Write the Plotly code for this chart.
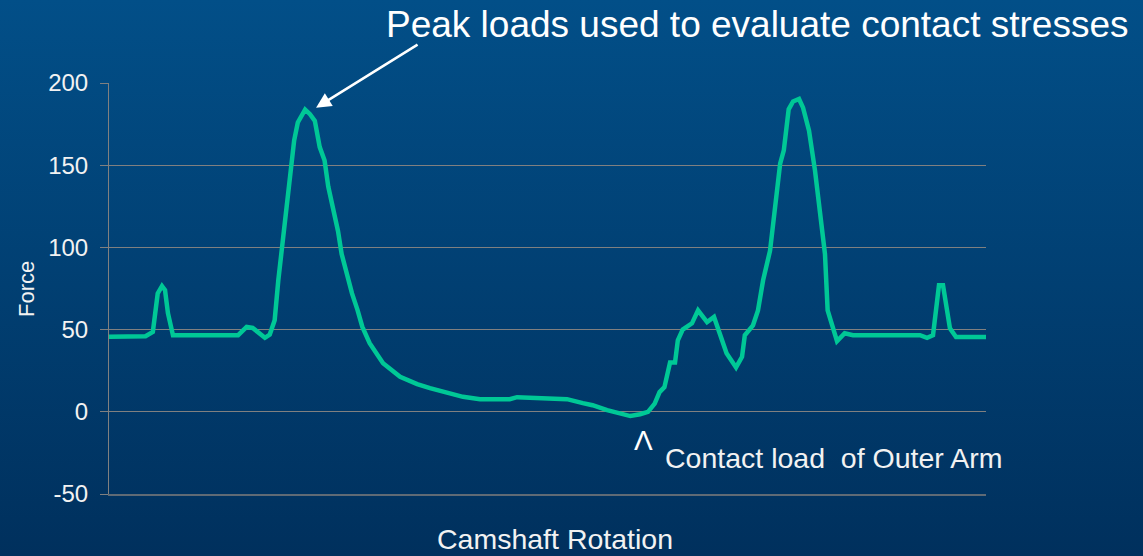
import base64
import plotly.graph_objects as go

# Camshaft rotation (deg) and force values
rotation = [0, 24, 30, 36, 40, 43.5, 46, 48.4, 52.5, 106, 113, 118, 124, 128, 132, 136, 139,
            142, 146, 150, 152, 155, 161, 165, 169, 173, 177, 180, 184, 188, 191, 195, 199.5,
            204, 208, 214, 225, 239, 253, 263.5, 277.5, 290.6, 304.6, 329, 335, 362, 376, 389,
            397, 409, 419.5, 428, 436, 442.5, 448, 452, 456, 460.6, 464.7, 467, 471, 478.6,
            483.6, 491, 496.7, 501.6, 507, 514.8, 519.7, 522, 528.7, 532.8, 537, 542.7, 546.8,
            551, 554, 558, 561.6, 566.5, 569.8, 574.7, 579.6, 583.7, 587.8, 590, 594, 597.7,
            604, 610.8, 665.8, 671.6, 676.5, 679, 681.4, 684.7, 688, 690.4, 695.4, 720]
force = [45.7, 46, 46, 48.6, 72, 76.5, 74, 60, 46.6, 46.6, 51.6, 51, 47, 45, 47, 55.7, 80,
         100, 120.6, 148.8, 165, 176, 183.8, 181, 177, 161, 152.8, 137, 124.5, 110, 96, 84, 72,
         62, 51.6, 41.7, 29.5, 21.3, 16.8, 14.4, 11.3, 9.1, 7.7, 7.7, 8.9, 8.3, 7.7, 5.3,
         4, 1, -0.9, -2.6, -1.5, 0, 5, 12, 15, 30, 30, 43.5, 50, 53.8,
         61.7, 54.6, 57.7, 47.8, 35.6, 27, 33.4, 46.6, 52.6, 61.7, 80, 98, 124.5,
         151, 159, 184, 188.8, 190.3, 185, 171, 146.8, 120.6, 96, 61.7, 51.6, 43,
         47.8, 46.6, 46.6, 45, 46.6, 61.7, 77, 77, 63.8, 50.8, 45.5, 45.5]
y_ticks = [-50, 0, 50, 100, 150, 200]
y_tick_labels = ["-50", "0", "50", "100", "150", "200"]

W, H = 1143, 556
L, R, T, B = 109, 157, 83, 62
PW, PH = W - L - R, H - T - B

def px(x):
    return (x - L) / PW

def py(y):
    return (H - B - y) / PH

svg = ('<svg xmlns="http://www.w3.org/2000/svg" width="100" height="100" preserveAspectRatio="none">'
       '<defs><linearGradient id="g" x1="0" y1="0" x2="0" y2="1">'
       '<stop offset="0" stop-color="#024f88"/><stop offset="1" stop-color="#00305d"/>'
       '</linearGradient></defs><rect width="100" height="100" fill="url(#g)"/></svg>')
src = "data:image/svg+xml;base64," + base64.b64encode(svg.encode()).decode()

fig = go.Figure()
fig.add_trace(go.Scatter(x=rotation, y=force, mode="lines",
                         line=dict(color="#00c896", width=4.5), hoverinfo="skip"))

font = "Liberation Sans, Arial, sans-serif"
fig.update_layout(
    width=W, height=H,
    margin=dict(l=L, r=R, t=T, b=B),
    paper_bgcolor="rgba(0,0,0,0)",
    plot_bgcolor="rgba(0,0,0,0)",
    showlegend=False,
    font=dict(family=font, color="white"),
    images=[dict(source=src, xref="paper", yref="paper", x=px(0), y=py(0),
                 sizex=W / PW, sizey=H / PH, xanchor="left", yanchor="top",
                 sizing="stretch", layer="below")],
    xaxis=dict(range=[0, 720], showticklabels=False, showgrid=False, zeroline=False,
               showline=True, linecolor="#5f6a75", linewidth=2, ticks=""),
    yaxis=dict(range=[-50, 200], tickvals=y_ticks, ticktext=y_tick_labels,
               showgrid=True, gridcolor="#808080",
               gridwidth=1, zeroline=False, showline=True, linecolor="#808080", linewidth=1,
               ticks="outside", ticklen=8, tickcolor="#808080", ticklabelstandoff=7,
               tickfont=dict(size=24, color="#f2f2f2", family=font)),
    annotations=[
        dict(text="Peak loads used to evaluate contact stresses", xref="paper", yref="paper",
             x=px(757), y=py(25), showarrow=False, xanchor="center", yanchor="middle",
             font=dict(size=37, color="white", family=font)),
        dict(text="", x=170, y=185, xref="x", yref="y", showarrow=True, ax=103, ay=-64,
             arrowcolor="white", arrowwidth=2.5, arrowhead=2, arrowsize=1.2),
        dict(text="Contact load  of Outer Arm", xref="paper", yref="paper",
             x=px(664), y=py(458), showarrow=False, xanchor="left", yanchor="middle",
             font=dict(size=28.5, color="#f2f2f2", family=font), borderpad=0),
        dict(text="Λ", xref="paper", yref="paper", x=px(643), y=py(440), showarrow=False,
             xanchor="center", yanchor="middle", borderpad=0,
             font=dict(size=28, color="white", family=font)),
        dict(text="Camshaft Rotation", xref="paper", yref="paper", x=px(555), y=py(539),
             showarrow=False, xanchor="center", yanchor="middle", borderpad=0,
             font=dict(size=28.5, color="#f2f2f2", family=font)),
        dict(text="Force", xref="paper", yref="paper", x=px(26), y=py(289), textangle=-90,
             showarrow=False, xanchor="center", yanchor="middle",
             font=dict(size=22, color="#f2f2f2", family=font)),
    ],
)

fig.write_html("out.html", config={"displayModeBar": False},
               post_script="document.body.style.margin='0';document.body.style.background='#00305d';")
